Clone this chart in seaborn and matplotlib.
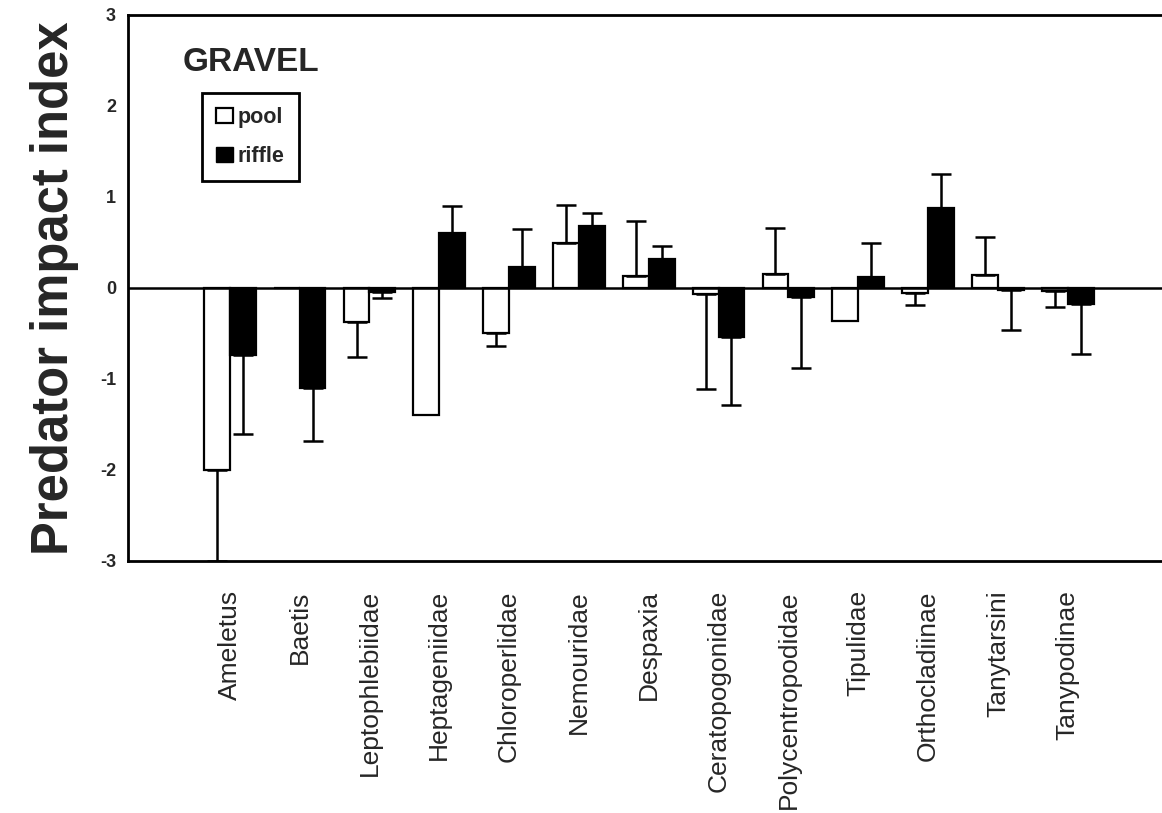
import pandas as pd
import numpy as np
import seaborn as sns
import matplotlib.pyplot as plt
from matplotlib.patches import Patch

# 値は図から目視で読み取ったもの
taxa = ['Ameletus', 'Baetis', 'Leptophlebiidae', 'Heptageniidae', 'Chloroperlidae',
        'Nemouridae', 'Despaxia', 'Ceratopogonidae', 'Polycentropodidae', 'Tipulidae',
        'Orthocladiinae', 'Tanytarsini', 'Tanypodinae']
pool = [-2.00, 0.00, -0.38, -1.40, -0.50, 0.49, 0.13, -0.07, 0.15, -0.37, -0.06, 0.14, -0.03]
pool_err = [1.00, 0.00, 0.38, 0.00, 0.14, 0.42, 0.60, 1.04, 0.51, 0.00, 0.13, 0.42, 0.18]
riffle = [-0.74, -1.10, -0.05, 0.60, 0.23, 0.68, 0.32, -0.54, -0.10, 0.12, 0.88, -0.02, -0.18]
riffle_err = [0.87, 0.58, 0.06, 0.30, 0.42, 0.14, 0.14, 0.75, 0.78, 0.37, 0.37, 0.44, 0.55]
habitats = ['pool', 'riffle']

df = pd.DataFrame({
    'taxon': taxa * 2,
    'habitat': ['pool'] * len(taxa) + ['riffle'] * len(taxa),
    'index': pool + riffle,
    'err': pool_err + riffle_err,
})

sns.set_style('white')
plt.rcParams['font.family'] = ['Liberation Sans', 'DejaVu Sans']

fig = plt.figure(figsize=(11.62, 8.13), dpi=100)
ax = fig.add_axes([0.110, 0.310, 0.890, 0.672])

sns.barplot(data=df, x='taxon', y='index', hue='habitat', order=taxa, hue_order=habitats,
            palette={'pool': 'white', 'riffle': 'black'}, edgecolor='black',
            linewidth=1.6, width=0.74, errorbar=None, ax=ax)

# 片側エラーバー（棒の向きに伸ばす）
for cont, h in zip(ax.containers, habitats):
    sub = df[df['habitat'] == h].set_index('taxon').loc[taxa]
    for bar, (v, e) in zip(cont, zip(sub['index'], sub['err'])):
        if e <= 0:
            continue
        xc = bar.get_x() + bar.get_width() / 2
        yerr = [[e], [0]] if v < 0 else [[0], [e]]
        ax.errorbar(xc, v, yerr=yerr, fmt='none', ecolor='black',
                    elinewidth=1.8, capsize=7, capthick=1.8, zorder=1)

ax.axhline(0, color='black', lw=1.8, zorder=3)

ax.set_ylim(-3, 3)
ax.set_xlim(-1.46, 13.35)
ax.set_yticks([-3, -2, -1, 0, 1, 2, 3])
ax.set_yticklabels(['-3', '-2', '-1', '0', '1', '2', '3'], fontweight='bold', fontsize=13)
ax.tick_params(axis='y', direction='inout', length=11, width=1.8, pad=3)
ax.tick_params(axis='x', length=0, pad=21)
ax.set_xticks(range(len(taxa)))
ax.set_xticklabels(taxa, rotation=90, fontsize=19)
ax.set_xlabel('')
ax.set_ylabel('Predator impact index', fontsize=36.5, fontweight='bold', labelpad=15)

for side in ['left', 'top', 'bottom']:
    ax.spines[side].set_linewidth(2.0)
    ax.spines[side].set_color('black')
ax.spines['right'].set_visible(False)

ax.text(0.053, 0.896, 'GRAVEL', transform=ax.transAxes, fontsize=24,
        fontweight='bold', ha='left', va='baseline')

handles = [Patch(facecolor='white', edgecolor='black', linewidth=1.6, label='pool'),
           Patch(facecolor='black', edgecolor='black', label='riffle')]
leg = ax.legend(handles=handles, loc='upper left', bbox_to_anchor=(0.072, 0.857),
                frameon=True, fancybox=False, edgecolor='black', framealpha=1,
                handlelength=0.8, handleheight=0.7, handletextpad=0.2,
                labelspacing=0.85, borderpad=0.65, borderaxespad=0,
                prop={'weight': 'bold', 'size': 15.5})
leg.get_frame().set_linewidth(2.0)

fig.savefig('out.png', dpi=100)
